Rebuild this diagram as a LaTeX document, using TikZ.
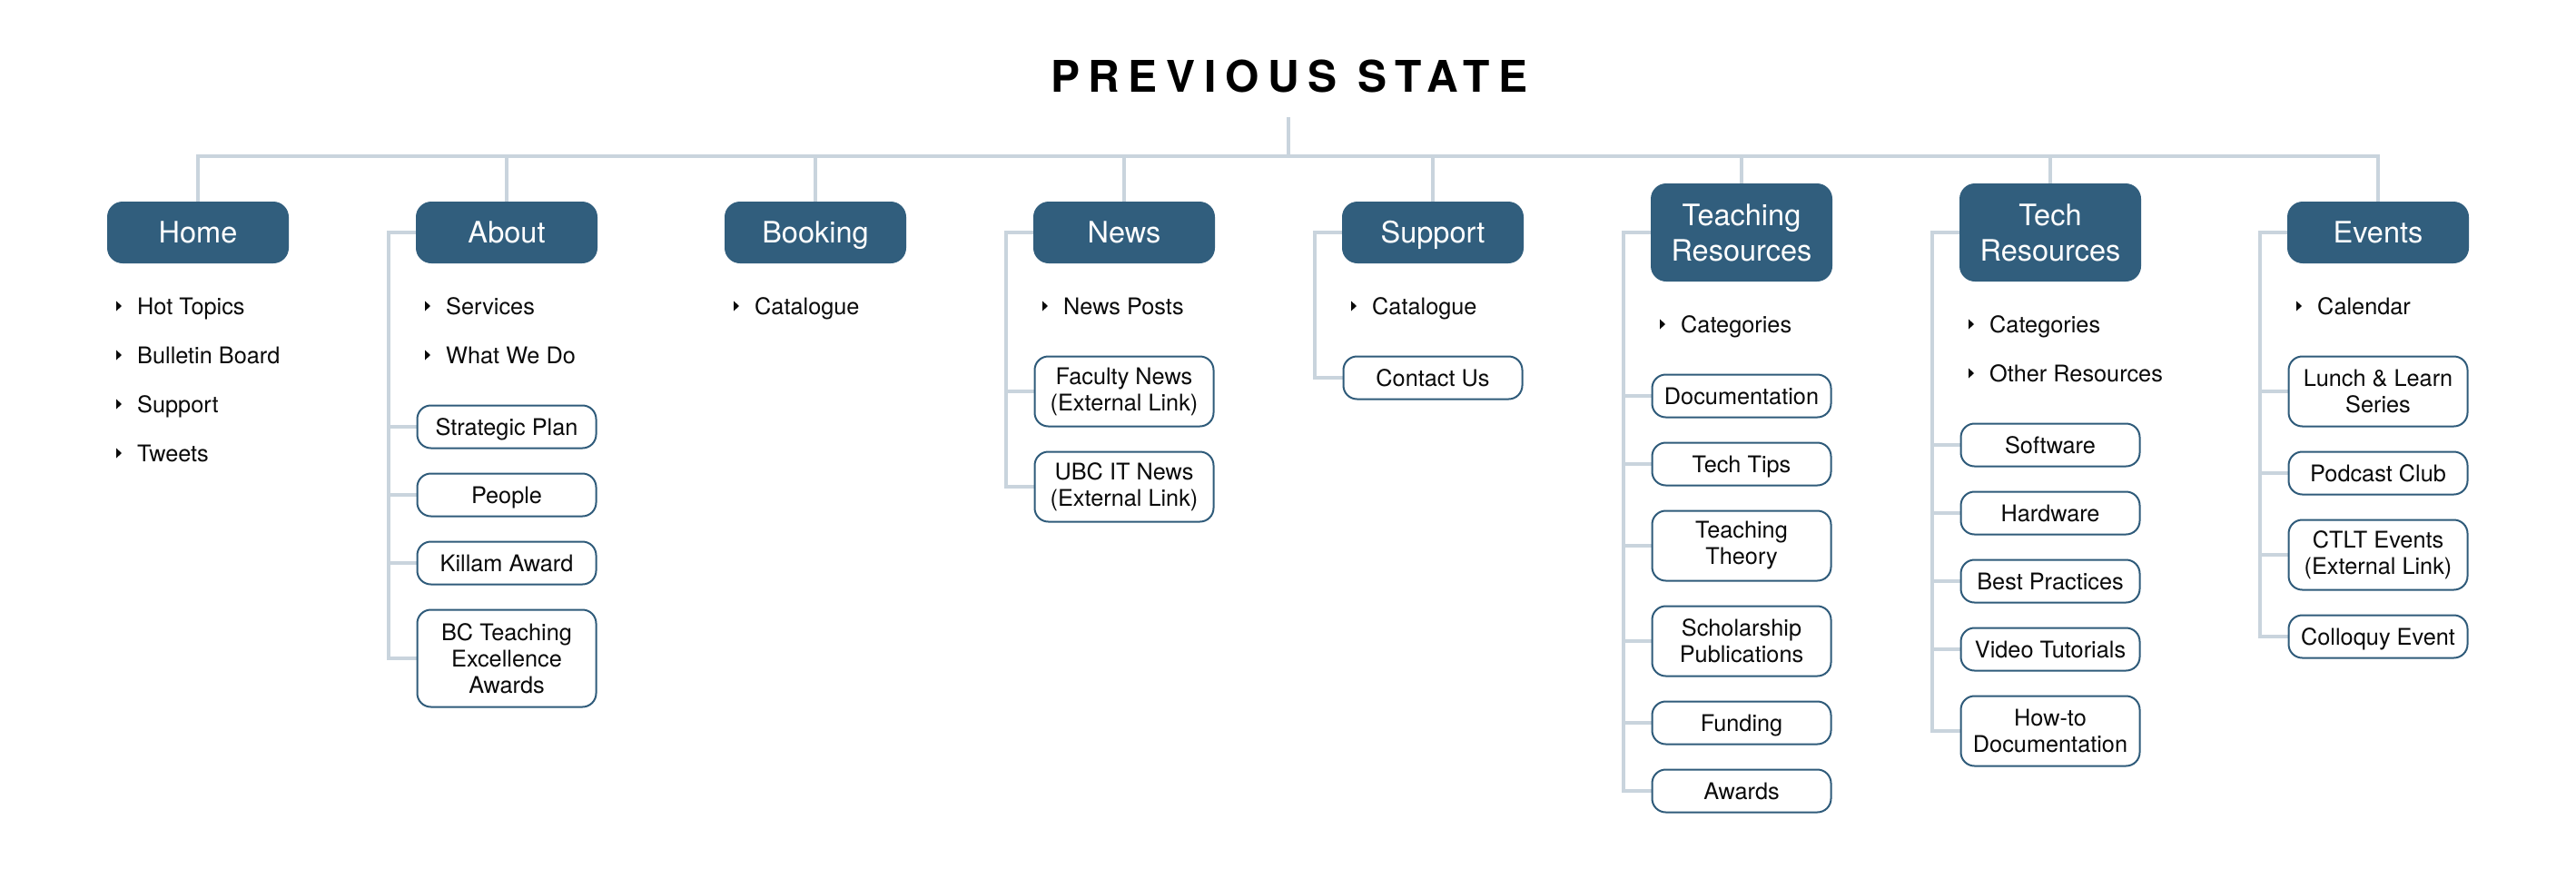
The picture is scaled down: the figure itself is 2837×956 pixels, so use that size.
\documentclass[tikz,border=0pt]{standalone}
\usepackage{fontspec}
\setmainfont{TeX Gyre Heros}
\newfontfamily\titlefont[LetterSpace=20]{TeX Gyre Heros}
\usetikzlibrary{backgrounds}
\definecolor{hdrblue}{HTML}{315E7D}
\definecolor{boxblue}{HTML}{2F5B7A}
\definecolor{linegray}{HTML}{C9D4DD}
\definecolor{ink}{HTML}{0A0A0A}
\newcommand\bulit[4]{%
  \node[bul] (#1) at (#2-67,#3) {#4};
  \fill[tri] (#1.west) ++(-23,-5.5) -- ++(6,5.5) -- ++(-6,5.5) -- cycle;}
\begin{document}
\begin{tikzpicture}[x=1pt,y=-1pt,
  hdrbase/.style={rectangle, rounded corners=17pt, fill=hdrblue, text=white,
    minimum width=200pt, minimum height=68pt, inner sep=0pt,
    font=\fontsize{32.5}{39}\selectfont},
  hdrone/.style={hdrbase, text height=23.3pt, text depth=0pt},
  hdrtwo/.style={hdrbase, align=center, minimum height=108pt},
  leafbase/.style={rectangle, rounded corners=15pt, draw=boxblue, line width=2pt,
    fill=white, minimum width=197pt, minimum height=47pt, inner sep=0pt,
    text=ink, font=\fontsize{25.3}{29}\selectfont},
  leafone/.style={leafbase, text height=18.2pt, text depth=0pt},
  leaftwo/.style={leafbase, align=center, minimum height=77pt},
  leafthree/.style={leafbase, align=center, minimum height=107pt},
  bul/.style={anchor=west, inner sep=0pt, text=ink, text height=18.2pt,
    text depth=0pt, font=\fontsize{25.3}{29}\selectfont},
  conn/.style={draw=linegray, line width=3.8pt, line join=miter},
  tri/.style={fill=ink}
]
\useasboundingbox (0,0) rectangle (2837,956);

% title
\node[font=\titlefont\fontsize{48}{58}\selectfont\bfseries, text=black,
  anchor=base, inner sep=0pt] (title) at (1420,101.7) {PREVIOUS STATE};

% headers
\node[hdrone] (home) at (218,256) {Home};
\node[hdrone] (about) at (558,256) {About};
\node[hdrone] (booking) at (898,256) {Booking};
\node[hdrone] (news) at (1238,256) {News};
\node[hdrone] (support) at (1578,256) {Support};
\node[hdrtwo] (teach) at (1918,256) {Teaching\\Resources};
\node[hdrtwo] (tech) at (2258,256) {Tech\\Resources};
\node[hdrone] (events) at (2619,256) {Events};

% Home
\bulit{home1}{218}{337}{Hot Topics}
\bulit{home2}{218}{391}{Bulletin Board}
\bulit{home3}{218}{445}{Support}
\bulit{home4}{218}{499}{Tweets}

% About
\bulit{ab1}{558}{337}{Services}
\bulit{ab2}{558}{391}{What We Do}
\node[leafone] (ab3) at (558,470) {Strategic Plan};
\node[leafone] (ab4) at (558,545) {People};
\node[leafone] (ab5) at (558,620) {Killam Award};
\node[leafthree] (ab6) at (558,725) {BC Teaching\\Excellence\\Awards};

% Booking
\bulit{bo1}{898}{337}{Catalogue}

% News
\bulit{ne1}{1238}{337}{News Posts}
\node[leaftwo] (ne2) at (1238,431) {Faculty News\\(External Link)};
\node[leaftwo] (ne3) at (1238,536) {UBC IT News\\(External Link)};

% Support
\bulit{su1}{1578}{337}{Catalogue}
\node[leafone] (su2) at (1578,416) {Contact Us};

% Teaching Resources
\bulit{te1}{1918}{357}{Categories}
\node[leafone] (te2) at (1918,436) {Documentation};
\node[leafone] (te3) at (1918,511) {Tech Tips};
\node[leaftwo] (te4) at (1918,601) {Teaching\\Theory};
\node[leaftwo] (te5) at (1918,706) {Scholarship\\Publications};
\node[leafone] (te6) at (1918,796) {Funding};
\node[leafone] (te7) at (1918,871) {Awards};

% Tech Resources
\bulit{tr1}{2258}{357}{Categories}
\bulit{tr2}{2258}{411}{Other Resources}
\node[leafone] (tr3) at (2258,490) {Software};
\node[leafone] (tr4) at (2258,565) {Hardware};
\node[leafone] (tr5) at (2258,640) {Best Practices};
\node[leafone] (tr6) at (2258,715) {Video Tutorials};
\node[leaftwo] (tr7) at (2258,805) {How-to\\Documentation};

% Events
\bulit{ev1}{2619}{337}{Calendar}
\node[leaftwo] (ev2) at (2619,431) {Lunch \& Learn\\Series};
\node[leafone] (ev3) at (2619,521) {Podcast Club};
\node[leaftwo] (ev4) at (2619,611) {CTLT Events\\(External Link)};
\node[leafone] (ev5) at (2619,701) {Colloquy Event};

\begin{scope}[on background layer]
  \fill[white] (0,0) rectangle (2837,956);
  \coordinate (tl) at (0,172);
  \coordinate (stem) at (1419,129);
  \draw[conn] (stem) -- (stem |- tl);
  \draw[conn] (home.north) -- (home.north |- tl) -- (events.north |- tl) -- (events.north);
  \foreach \n in {about,booking,news,support,teach,tech}
    \draw[conn] (\n.north) -- (\n.north |- tl);
  % brackets
  \draw[conn] (about.west) -- ++(-30,0) |- (ab6.west);
  \coordinate (abx) at ([xshift=-30pt]about.west);
  \foreach \c in {ab3,ab4,ab5} \draw[conn] (abx |- \c.west) -- (\c.west);
  \draw[conn] (news.west) -- ++(-30,0) |- (ne3.west);
  \coordinate (nex) at ([xshift=-30pt]news.west);
  \draw[conn] (nex |- ne2.west) -- (ne2.west);
  \draw[conn] (support.west) -- ++(-30,0) |- (su2.west);
  \draw[conn] (teach.west) -- ++(-30,0) |- (te7.west);
  \coordinate (tex) at ([xshift=-30pt]teach.west);
  \foreach \c in {te2,te3,te4,te5,te6} \draw[conn] (tex |- \c.west) -- (\c.west);
  \draw[conn] (tech.west) -- ++(-30,0) |- (tr7.west);
  \coordinate (trx) at ([xshift=-30pt]tech.west);
  \foreach \c in {tr3,tr4,tr5,tr6} \draw[conn] (trx |- \c.west) -- (\c.west);
  \draw[conn] (events.west) -- ++(-30,0) |- (ev5.west);
  \coordinate (evx) at ([xshift=-30pt]events.west);
  \foreach \c in {ev2,ev3,ev4} \draw[conn] (evx |- \c.west) -- (\c.west);
\end{scope}
\end{tikzpicture}
\end{document}
